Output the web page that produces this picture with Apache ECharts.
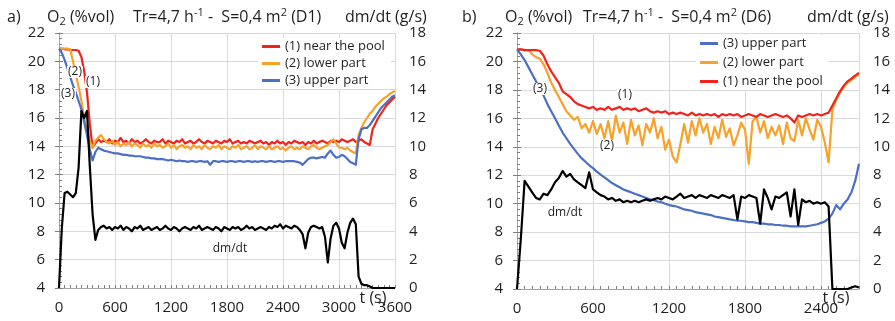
<!DOCTYPE html>
<html><head><meta charset="utf-8">
<script src="https://cdn.jsdelivr.net/npm/echarts@6/dist/echarts.min.js"></script>
<style>html,body{margin:0;padding:0;background:#fff}#c{width:895px;height:321px}</style>
</head><body><div id="c"></div>
<script>
// ---------- Chart a) D1 ----------
const timeA = [
  0,30,60,90,120,150,180,210,240,270,
  300,330,360,390,420,450,480,510,540,570,
  600,630,660,690,720,750,780,810,840,870,
  900,930,960,990,1020,1050,1080,1110,1140,1170,
  1200,1230,1260,1290,1320,1350,1380,1410,1440,1470,
  1500,1530,1560,1590,1620,1650,1680,1710,1740,1770,
  1800,1830,1860,1890,1920,1950,1980,2010,2040,2070,
  2100,2130,2160,2190,2220,2250,2280,2310,2340,2370,
  2400,2430,2460,2490,2520,2550,2580,2610,2640,2670,
  2700,2730,2760,2790,2820,2850,2880,2910,2940,2970,
  3000,3030,3060,3090,3120,3150,3180,3210,3240,3270,
  3300,3330,3360,3390,3420,3450,3480,3510,3540,3570,
  3600
];
const nearPoolA = [
  20.9,20.9,20.85,20.85,20.8,20.8,20.8,20.75,20.3,19.3,
  17.8,15.6,13.9,14.2,14.5,14.3,14.4,14.3,14.5,14.2,
  14.4,14.3,14.6,14.3,14.4,14.2,14.5,14.3,14.4,14.2,
  14.3,14.5,14.3,14.2,14.4,14.3,14.3,14.5,14.2,14.4,
  14.3,14.2,14.4,14.3,14.5,14.2,14.3,14.4,14.2,14.3,
  14.5,14.3,14.2,14.4,14.3,14.2,14.4,14.3,14.2,14.4,
  14.3,14.5,14.2,14.3,14.4,14.2,14.3,14.2,14.4,14.3,
  14.2,14.3,14.4,14.2,14.3,14.1,14.3,14.2,14.4,14.2,
  14.3,14.1,14.3,14.2,14.4,14.3,14.2,14.3,14.1,14.3,
  14.2,14.4,14.2,14.3,14.4,14.3,14.2,14.4,14.3,14.4,
  14.3,14.5,14.4,14.3,14.4,14.5,14.3,14.4,14.5,14.3,
  14.2,14.1,15.2,15.6,16.0,16.3,16.6,16.9,17.1,17.3,
  17.5
];
const lowerPartA = [
  20.9,20.9,20.9,20.9,20.85,20.0,19.1,18.2,17.2,16.0,
  15.1,14.4,13.9,14.4,14.6,14.8,14.5,14.3,14.2,14.4,
  14.1,14.3,14.0,14.2,14.1,14.3,14.0,14.2,14.1,13.9,
  14.2,14.0,14.1,13.9,14.2,14.0,14.1,13.9,14.0,14.2,
  13.9,14.1,13.8,14.0,14.1,13.9,14.0,13.8,14.1,13.9,
  14.0,13.8,14.1,13.9,13.8,14.0,13.9,14.1,13.8,14.0,
  13.9,13.8,14.0,13.9,14.1,13.8,13.9,14.0,13.8,13.9,
  14.1,13.8,14.0,13.9,13.8,14.0,13.8,13.9,14.0,13.8,
  13.9,13.7,13.9,14.0,13.8,13.9,13.8,14.0,13.9,13.8,
  14.0,14.1,13.9,13.8,13.9,14.0,14.1,14.3,14.5,14.2,
  13.9,13.9,13.8,13.9,13.7,13.6,13.5,14.8,15.3,15.7,
  16.0,16.3,16.5,16.8,17.0,17.2,17.4,17.5,17.7,17.8,
  17.9
];
const upperPartA = [
  20.9,20.6,20.1,19.5,18.9,18.3,17.8,17.2,16.6,15.7,
  14.8,13.8,13.0,13.6,13.9,13.8,13.7,13.65,13.6,13.55,
  13.5,13.5,13.45,13.4,13.4,13.35,13.35,13.3,13.3,13.3,
  13.25,13.2,13.2,13.15,13.15,13.1,13.1,13.1,13.05,13.0,
  13.05,13.0,12.95,13.0,12.95,12.95,12.9,12.95,12.95,12.9,
  12.95,12.95,12.9,12.95,12.7,12.95,12.95,12.9,12.95,12.95,
  12.9,12.95,12.95,12.9,12.95,12.95,12.9,12.95,12.95,12.9,
  12.95,12.9,12.95,12.95,12.9,12.95,12.95,12.9,12.95,12.95,
  12.9,12.95,12.95,12.95,12.95,12.9,12.85,12.7,12.9,13.1,
  13.2,13.2,13.15,13.2,13.25,13.2,13.5,13.7,13.4,13.2,
  13.25,13.4,13.3,13.1,12.9,12.8,12.7,14.5,15.2,15.3,
  15.3,15.5,15.8,16.1,16.4,16.7,16.9,17.1,17.3,17.5,
  17.6
];
const dmdtA = [
  0.0,4.2,6.7,6.8,6.6,6.4,6.7,8.5,12.5,12.0,
  12.5,8.6,5.2,3.4,4.1,4.3,4.4,4.2,4.3,4.1,
  4.3,4.2,4.4,4.1,4.3,4.2,4.0,4.3,4.2,4.4,
  4.1,4.2,4.3,4.1,4.2,4.3,4.1,4.2,4.4,4.2,
  4.1,4.3,4.2,4.0,4.2,4.3,4.2,4.1,4.3,4.2,
  4.4,4.1,4.2,4.3,4.2,4.1,4.3,4.2,4.0,4.3,
  4.2,4.1,4.3,4.2,4.3,4.1,4.2,4.4,4.2,4.3,
  4.1,4.2,4.3,4.2,4.1,4.3,4.2,4.4,4.3,4.5,
  4.2,4.4,4.3,4.2,4.4,4.3,4.1,3.8,2.8,3.9,
  4.3,4.4,4.3,4.2,4.3,3.6,1.8,3.5,4.4,4.6,
  4.2,3.2,2.8,3.9,4.6,4.9,4.5,0.8,0.3,0.2,
  0.2,0.1,0.0,0.0,0.0,0.0,0.0,0.0,0.0,0.0,
  0.0
];

// ---------- Chart b) D6 ----------
const timeB = [
  0,30,60,90,120,150,180,210,240,270,
  300,330,360,390,420,450,480,510,540,570,
  600,630,660,690,720,750,780,810,840,870,
  900,930,960,990,1020,1050,1080,1110,1140,1170,
  1200,1230,1260,1290,1320,1350,1380,1410,1440,1470,
  1500,1530,1560,1590,1620,1650,1680,1710,1740,1770,
  1800,1830,1860,1890,1920,1950,1980,2010,2040,2070,
  2100,2130,2160,2190,2220,2250,2280,2310,2340,2370,
  2400,2430,2460,2490,2520,2550,2580,2610,2640,2670,
  2700
];
const nearPoolB = [
  20.85,20.85,20.8,20.8,20.8,20.8,20.75,20.4,19.8,19.3,
  18.9,18.5,17.9,17.7,17.5,17.2,17.0,16.9,16.8,16.7,
  16.8,16.6,16.7,16.6,16.8,16.6,16.7,16.8,16.6,16.7,
  16.6,16.7,16.5,16.6,16.7,16.5,16.4,16.5,16.4,16.5,
  16.3,16.4,16.3,16.4,16.3,16.2,16.4,16.2,16.3,16.2,
  16.3,16.2,16.3,16.1,16.3,16.2,16.3,16.2,16.3,16.1,
  16.2,16.3,16.2,16.1,16.3,16.2,16.1,16.2,16.3,16.2,
  16.1,16.2,16.0,15.7,16.2,16.1,16.2,16.3,16.2,16.3,
  16.2,16.3,16.4,16.9,17.4,17.9,18.3,18.6,18.8,19.0,
  19.2
];
const lowerPartB = [
  20.85,20.85,20.8,20.8,20.5,20.3,20.2,19.8,19.2,18.5,
  18.0,17.5,17.0,16.5,16.2,15.9,16.1,15.3,15.6,15.0,
  15.8,14.9,15.6,14.6,15.8,14.4,16.2,15.0,15.7,14.2,
  15.9,14.8,15.5,14.1,15.6,15.0,16.0,14.6,15.4,13.8,
  14.5,13.3,12.9,14.2,15.6,14.3,15.8,14.8,16.0,15.0,
  15.6,14.2,15.4,14.6,15.9,14.7,15.3,14.1,14.8,15.7,
  15.2,12.8,15.8,16.1,15.0,15.8,14.6,15.4,14.8,15.5,
  14.2,15.7,14.6,14.4,15.9,14.8,16.0,15.2,14.5,15.9,
  15.4,14.3,12.9,16.6,17.3,17.8,18.2,18.5,18.7,18.9,
  19.1
];
const upperPartB = [
  20.85,20.5,20.1,19.6,19.1,18.6,18.1,17.6,17.0,16.5,
  16.0,15.5,15.0,14.6,14.2,13.85,13.5,13.2,12.95,12.7,
  12.5,12.25,12.05,11.85,11.65,11.45,11.3,11.15,11.0,10.9,
  10.8,10.7,10.6,10.5,10.4,10.3,10.25,10.15,10.1,10.0,
  9.9,9.85,9.8,9.7,9.6,9.55,9.5,9.4,9.35,9.3,
  9.25,9.2,9.1,9.05,9.0,8.95,8.9,8.85,8.8,8.8,
  8.75,8.7,8.7,8.65,8.6,8.6,8.55,8.55,8.5,8.5,
  8.45,8.45,8.4,8.4,8.4,8.4,8.4,8.45,8.5,8.55,
  8.65,8.75,8.95,9.3,9.9,9.6,10.0,10.3,10.8,11.6,
  12.8
];
const dmdtB = [
  0.0,3.5,7.6,7.2,6.8,6.4,6.3,6.7,6.6,7.0,
  7.5,7.8,8.3,7.9,8.1,7.7,7.5,7.3,7.1,8.2,
  7.0,6.8,6.6,6.5,6.3,6.4,6.2,6.3,6.1,6.2,
  6.1,6.2,6.1,6.2,6.3,6.2,6.3,6.4,6.3,6.5,
  6.4,6.3,6.5,6.7,6.4,6.5,6.6,6.4,6.6,6.5,
  6.4,6.6,6.5,6.4,6.6,6.5,6.4,6.6,4.9,6.5,
  6.4,6.6,6.5,6.4,4.6,7.0,6.4,5.6,6.5,6.4,
  6.6,6.8,5.1,7.0,4.5,6.3,6.1,6.2,6.0,6.1,
  6.0,6.1,5.8,0.0,0.0,0.0,0.0,0.0,0.1,0.2,
  0.1
];

// ---------- axis settings ----------
const o2Min = 4, o2Max = 22, dmMin = 0, dmMax = 18, yStep = 2;
const tMaxA = 3600, tMaxB = 2700, tStep = 600, tMinorStep = 60;

const FONT = 'Open Sans';
const TXT = '#1f1f1f';
const GRIDC = '#d9d9d9';
const AXC = '#a6a6a6';
const RED = '#f2231c', ORANGE = '#f8a12b', BLUE = '#4a6fc4', BLACK = '#000000';
const NAME1 = '(1) near the pool', NAME2 = '(2) lower part', NAME3 = '(3) upper part';

function zip(t, v) { return t.map((x, i) => [x, v[i]]); }
const plain = v => String(v);

function mainX(gi, max) {
  return {
    type: 'value', gridIndex: gi, position: 'bottom', min: 0, max: max, interval: tStep,
    axisLine: { show: true, lineStyle: { color: AXC, width: 1 } },
    axisTick: { show: false },
    splitLine: { show: true, lineStyle: { color: GRIDC, width: 1 } },
    axisLabel: { fontSize: 15, fontFamily: FONT, color: TXT, margin: 12, formatter: plain,
      showMaxLabel: max % tStep === 0 }
  };
}
function minorX(gi, max) {
  return {
    type: 'value', gridIndex: gi, position: 'bottom', min: 0, max: max, interval: tMinorStep,
    axisLine: { show: false }, axisLabel: { show: false }, splitLine: { show: false },
    axisTick: { show: true, inside: true, length: 3, lineStyle: { color: '#7f7f7f' } }
  };
}
function leftY(gi) {
  return {
    type: 'value', gridIndex: gi, position: 'left', min: o2Min, max: o2Max, interval: yStep,
    axisLine: { show: true, lineStyle: { color: AXC } },
    axisTick: { show: true, inside: true, length: 4, lineStyle: { color: '#7f7f7f' } },
    minorTick: { show: true, splitNumber: 5, length: 3, lineStyle: { color: '#7f7f7f' } },
    splitLine: { show: true, lineStyle: { color: GRIDC } },
    axisLabel: { fontSize: 15, fontFamily: FONT, color: TXT, margin: 14, formatter: plain }
  };
}
function rightY(gi) {
  return {
    type: 'value', gridIndex: gi, position: 'right', min: dmMin, max: dmMax, interval: yStep,
    axisLine: { show: true, lineStyle: { color: AXC } },
    axisTick: { show: true, inside: true, length: 4, lineStyle: { color: '#7f7f7f' } },
    splitLine: { show: false },
    axisLabel: { fontSize: 15, fontFamily: FONT, color: TXT, margin: 14, formatter: plain }
  };
}
function line(name, xi, yi, t, v, color, z) {
  return {
    type: 'line', name: name, xAxisIndex: xi, yAxisIndex: yi, data: zip(t, v),
    showSymbol: false, symbol: 'none', z: z, animation: false, silent: true,
    lineStyle: { color: color, width: 2.2, join: 'round' }, itemStyle: { color: color }
  };
}

const richT = {
  n: { fontSize: 16, fontFamily: FONT, fill: TXT, lineHeight: 20 },
  sb: { fontSize: 11, fontFamily: FONT, fill: TXT, verticalAlign: 'bottom' },
  sp: { fontSize: 11, fontFamily: FONT, fill: TXT, verticalAlign: 'top' }
};
function title(x, text) {
  return { type: 'text', x: x, y: 17, z: 100,
    style: { text: text, rich: richT, align: 'left', verticalAlign: 'middle' } };
}
function note(x, y, text, size, bg) {
  return { type: 'text', x: x, y: y, z: 100,
    style: { text: text, fontSize: size, fontFamily: FONT, fill: TXT, align: 'center', verticalAlign: 'middle',
      backgroundColor: bg ? '#fff' : null, padding: bg ? [0, 1] : 0 } };
}

const legendText = { fontSize: 13, fontFamily: FONT, color: TXT };

const option = {
  backgroundColor: '#fff',
  animation: false,
  grid: [
    { left: 59, top: 33, width: 336, height: 255 },
    { left: 517, top: 33, width: 342, height: 256 }
  ],
  xAxis: [ mainX(0, tMaxA), mainX(1, tMaxB), minorX(0, tMaxA), minorX(1, tMaxB) ],
  yAxis: [ leftY(0), rightY(0), leftY(1), rightY(1) ],
  legend: [
    { left: 258, top: 38, orient: 'vertical', icon: 'rect', itemWidth: 18, itemHeight: 3, itemGap: 4,
      padding: [2, 6, 2, 4], backgroundColor: '#fff', textStyle: legendText,
      data: [NAME1, NAME2, NAME3], selectedMode: false },
    { left: 696, top: 35, orient: 'vertical', icon: 'rect', itemWidth: 18, itemHeight: 3, itemGap: 6,
      padding: [2, 6, 2, 4], backgroundColor: '#fff', textStyle: legendText,
      data: [NAME3, NAME2, NAME1], selectedMode: false }
  ],
  series: [
    line(NAME1, 0, 0, timeA, nearPoolA, RED, 2),
    line(NAME2, 0, 0, timeA, lowerPartA, ORANGE, 3),
    line(NAME3, 0, 0, timeA, upperPartA, BLUE, 4),
    line('dm/dt', 0, 1, timeA, dmdtA, BLACK, 5),
    line(NAME2, 1, 2, timeB, lowerPartB, ORANGE, 2),
    line(NAME1, 1, 2, timeB, nearPoolB, RED, 3),
    line(NAME3, 1, 2, timeB, upperPartB, BLUE, 4),
    line('dm/dt', 1, 3, timeB, dmdtB, BLACK, 5)
  ],
  graphic: [
    title(7, '{n|a)}'),
    title(47, '{n|O}{sb|2}{n| (%vol)}'),
    title(133, '{n|Tr=4,7 h}{sp|-1}{n| -  S=0,4 m}{sp|2}{n| (D1)}'),
    title(345, '{n|dm/dt (g/s)}'),
    title(462, '{n|b)}'),
    title(505, '{n|O}{sb|2}{n| (%vol)}'),
    title(583, '{n|Tr=4,7 h}{sp|-1}{n| -  S=0,4 m}{sp|2}{n| (D6)}'),
    title(807, '{n|dm/dt (g/s)}'),
    note(75, 72, '(2)', 12, true),
    note(93, 82, '(1)', 12, true),
    note(68, 94, '(3)', 12, true),
    note(230, 249, 'dm/dt', 12, false),
    note(540, 89, '(3)', 12, true),
    note(625, 95, '(1)', 12, true),
    note(607, 146, '(2)', 12, true),
    note(565, 213, 'dm/dt', 12, false),
    note(373, 298, 't (s)', 16, false),
    note(836, 298, 't (s)', 16, false)
  ]
};
const chart = echarts.init(document.getElementById('c'));
chart.setOption(option);
</script>
</body></html>
